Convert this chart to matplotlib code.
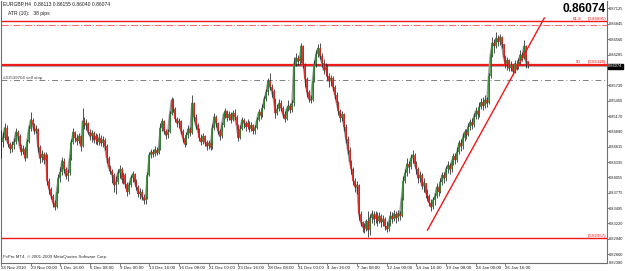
import numpy as np
import matplotlib
matplotlib.use("Agg")
import matplotlib.pyplot as plt

plt.rcParams["font.family"] = ["Liberation Sans", "DejaVu Sans"]

symbol_line = "EURGBP,H4  0.86113 0.86155 0.86040 0.86074"
atr_line = "ATR (10):   38 pips"
copyright_line = "FxPro MT4, \u00a9 2001-2009 MetaQuotes Software Corp."
last_price = 0.86074

# H4 bars, price = 0.8 + value / 10000
close_pips = [
    470, 478, 496, 474, 466, 458, 464, 470, 488, 480,
    462, 452, 458, 440, 470, 494, 510, 500, 490, 494,
    460, 440, 448, 438, 446, 400, 384, 372, 360, 352,
    380, 404, 416, 436, 420, 408, 414, 440, 470, 488,
    478, 472, 480, 462, 508, 500, 504, 488, 480, 486,
    474, 480, 470, 478, 468, 474, 462, 440, 424, 418,
    410, 392, 398, 414, 420, 402, 410, 394, 380, 392,
    404, 412, 398, 388, 376, 380, 370, 364, 368, 410,
    446, 452, 448, 456, 450, 458, 496, 508, 490, 482,
    488, 520, 546, 530, 512, 504, 508, 490, 478, 466,
    482, 494, 486, 540, 516, 500, 492, 478, 470, 480,
    470, 462, 468, 460, 496, 516, 504, 490, 480, 500,
    520, 526, 514, 520, 510, 522, 516, 500, 478, 494,
    510, 504, 498, 504, 494, 500, 490, 496, 510, 524,
    518, 532, 548, 560, 580, 570, 562, 548, 522, 530,
    540, 532, 520, 512, 530, 536, 528, 540, 612, 622,
    616, 620, 644, 610, 584, 560, 548, 546, 580, 612,
    630, 640, 626, 614, 600, 606, 590, 580, 586, 570,
    556, 540, 526, 514, 520, 498, 476, 456, 434, 420,
    400, 388, 392, 340, 324, 316, 312, 326, 310, 332,
    340, 330, 338, 326, 336, 324, 330, 318, 312, 322,
    336, 330, 340, 332, 340, 336, 368, 400, 414, 430,
    424, 440, 446, 430, 420, 404, 410, 390, 396, 378,
    372, 360, 352, 364, 372, 388, 380, 398, 410, 404,
    420, 428, 420, 434, 444, 438, 452, 468, 462, 478,
    488, 482, 498, 506, 500, 516, 526, 520, 534, 542,
    536, 546, 540, 590, 630, 650, 644, 658, 652, 660,
    648, 624, 612, 618, 604, 610, 598, 612, 606, 616,
    628, 622, 644, 616, 607,
]
high_pips = [
    492, 488, 504, 500, 480, 470, 472, 478, 495, 492,
    484, 466, 464, 460, 476, 500, 524, 514, 504, 500,
    496, 464, 456, 452, 452, 448, 404, 388, 376, 364,
    386, 412, 424, 443, 440, 424, 420, 448, 476, 495,
    490, 484, 486, 482, 532, 516, 512, 506, 494, 492,
    490, 486, 484, 486, 482, 480, 478, 466, 444, 428,
    420, 414, 408, 420, 428, 424, 416, 414, 398, 398,
    410, 418, 414, 402, 392, 386, 384, 376, 374, 416,
    452, 458, 458, 462, 460, 464, 504, 514, 510, 494,
    494, 526, 552, 550, 534, 516, 514, 510, 494, 482,
    488, 500, 498, 555, 542, 520, 504, 496, 484, 486,
    482, 474, 474, 472, 502, 523, 518, 506, 494, 506,
    526, 532, 528, 526, 524, 528, 530, 518, 502, 500,
    516, 514, 508, 512, 508, 506, 502, 500, 516, 530,
    530, 538, 554, 566, 586, 595, 576, 566, 550, 538,
    548, 546, 536, 526, 536, 546, 540, 546, 624, 632,
    628, 626, 650, 646, 614, 588, 564, 556, 588, 618,
    636, 648, 650, 632, 620, 614, 610, 596, 592, 590,
    574, 560, 544, 530, 526, 522, 502, 480, 460, 438,
    424, 404, 400, 394, 344, 326, 322, 330, 344, 340,
    346, 344, 344, 342, 342, 340, 338, 334, 326, 330,
    344, 342, 346, 344, 346, 344, 374, 408, 420, 440,
    436, 448, 455, 450, 436, 424, 418, 414, 404, 396,
    384, 376, 366, 370, 378, 396, 392, 404, 416, 416,
    426, 436, 432, 440, 450, 450, 460, 474, 476, 486,
    494, 494, 504, 512, 514, 522, 534, 532, 542, 550,
    552, 555, 552, 596, 636, 660, 656, 669, 664, 666,
    662, 648, 628, 624, 620, 616, 612, 618, 618, 622,
    636, 634, 655, 646, 616,
]
low_pips = [
    440, 460, 474, 470, 460, 450, 452, 458, 466, 472,
    456, 446, 448, 436, 440, 468, 490, 494, 484, 486,
    452, 432, 434, 430, 436, 392, 376, 366, 352, 346,
    350, 378, 398, 410, 414, 402, 400, 410, 438, 466,
    470, 464, 468, 454, 460, 494, 492, 484, 474, 470,
    468, 466, 464, 464, 462, 460, 456, 432, 418, 412,
    396, 380, 376, 394, 404, 396, 394, 386, 372, 376,
    388, 398, 392, 382, 370, 366, 364, 358, 358, 366,
    408, 440, 442, 444, 446, 448, 456, 490, 484, 476,
    478, 486, 518, 524, 506, 498, 496, 484, 470, 460,
    464, 478, 480, 484, 508, 494, 486, 472, 464, 466,
    462, 456, 458, 456, 458, 492, 498, 484, 474, 478,
    498, 514, 508, 510, 504, 508, 510, 494, 472, 476,
    492, 496, 490, 494, 488, 490, 484, 484, 494, 508,
    512, 516, 530, 544, 556, 564, 552, 540, 514, 518,
    526, 526, 514, 506, 510, 526, 522, 524, 536, 608,
    610, 612, 614, 604, 570, 552, 542, 540, 544, 578,
    606, 624, 620, 606, 594, 590, 580, 570, 572, 562,
    548, 532, 518, 506, 508, 490, 468, 448, 426, 412,
    392, 380, 376, 328, 318, 306, 304, 308, 298, 302,
    322, 320, 322, 318, 322, 316, 318, 310, 306, 308,
    318, 322, 326, 322, 326, 328, 334, 364, 396, 408,
    414, 420, 432, 424, 412, 396, 398, 384, 380, 368,
    362, 354, 344, 348, 356, 368, 372, 378, 392, 396,
    400, 414, 412, 416, 428, 430, 434, 448, 454, 458,
    472, 476, 480, 492, 494, 498, 512, 512, 516, 530,
    528, 532, 534, 538, 586, 624, 632, 640, 644, 646,
    640, 616, 604, 600, 598, 598, 591, 596, 600, 602,
    612, 616, 620, 604, 604,
]

x_tick_bars = [0, 16, 32, 48, 64, 80, 96, 112, 128, 144, 160, 176, 192, 208, 224, 240, 256, 272]
x_tick_labels = ["24 Nov 2010", "29 Nov 00:00", "1 Dec 16:00", "6 Dec 08:00", "9 Dec 00:00",
                 "13 Dec 16:00", "16 Dec 08:00", "21 Dec 00:00", "23 Dec 16:00", "28 Dec 08:00",
                 "31 Dec 00:00", "4 Jan 16:00", "7 Jan 08:00", "12 Jan 00:00", "14 Jan 16:00",
                 "19 Jan 08:00", "24 Jan 00:00", "26 Jan 16:00"]
y_tick_labels = ["0.87125", "0.86845", "0.86560", "0.86285", "0.85730", "0.85450",
                 "0.85170", "0.84890", "0.84615", "0.84335", "0.84055", "0.83775",
                 "0.83495", "0.83220", "0.82940", "0.82660"]
y_bottom_label = "0.82380"

fib_618 = 0.86895
fib_50 = 0.86118
fib_100 = 0.82957
second_line = 0.86100
stop_loss = 0.86820
sell_stop = 0.85820
sell_stop_label = "#41539704 sell stop"

trend_bars = [230, 293]
trend_prices = [0.83100, 0.86950]

W, H = 625, 271
RED = "#f01818"
GREEN = "#2a8a2a"
FS = 3.2
FS_AX = 2.85

close = 0.8 + np.array(close_pips) / 10000
high = 0.8 + np.array(high_pips) / 10000
low = 0.8 + np.array(low_pips) / 10000
open_ = np.r_[close[0], close[:-1]]
bars = np.arange(len(close))

fig = plt.figure(figsize=(W / 100, H / 100), dpi=100)
ax = fig.add_axes([1 / W, (H - 263) / H, 606 / W, 262 / H])
ax.set_xlim(0.3, 326.8)
ax.set_ylim(0.82503, 0.87258)

# horizontal objects
ax.axhline(fib_618, color=RED, lw=1.0)
ax.axhline(stop_loss, color="#f07070", lw=0.8, ls="-.")
ax.axhline(fib_50, color=RED, lw=0.9)
ax.axhline(second_line, color=RED, lw=0.9)
ax.axhline(last_price, color="#a8a8a8", lw=0.8)
ax.axhline(sell_stop, color="#808080", lw=0.7, ls=(0, (6, 3, 1, 3)))
ax.axhline(fib_100, color=RED, lw=1.0)

# price: close line + bars
ax.plot(bars, close, color="#9a9a9a", lw=1.3, zorder=2)
ax.vlines(bars, low, high, color="#202020", lw=0.55, zorder=3)
up = close >= open_
ax.vlines(bars[up], open_[up], close[up], color=GREEN, lw=1.1, zorder=4)
ax.vlines(bars[~up], close[~up], open_[~up], color=RED, lw=1.1, zorder=4)

ax.plot(trend_bars, trend_prices, color=RED, lw=1.0, zorder=5)

# level labels
ytr = ax.get_yaxis_transform()
ax.text(0.944, fib_618, "61.8", color=RED, fontsize=FS, va="bottom", transform=ytr)
ax.text(0.999, fib_618, "(0.86895)", color=RED, fontsize=FS, va="bottom", ha="right", transform=ytr)
ax.text(0.948, fib_50, "50", color=RED, fontsize=FS, va="bottom", transform=ytr)
ax.text(0.999, fib_50, "(0.86118)", color=RED, fontsize=FS, va="bottom", ha="right", transform=ytr)
ax.text(0.999, fib_100, "(0.82957)", color=RED, fontsize=FS, va="bottom", ha="right", transform=ytr)
ax.text(0.003, sell_stop, sell_stop_label, color="#404040", fontsize=FS, va="bottom", transform=ytr)

# header texts
fig.text(3 / W, 1 - 4 / H, symbol_line, fontsize=FS + 0.4, va="center", color="#202020")
fig.text(8 / W, 1 - 14 / H, atr_line, fontsize=FS + 0.4, va="center", color="#202020")
fig.text(606 / W, 1 - 8.5 / H, "0.86074", fontsize=8.6, fontweight="bold", ha="right", va="center")
fig.text(3 / W, 1 - 257 / H, copyright_line, fontsize=FS, va="center", color="#303030")

# axes styling
ax.spines["top"].set_visible(False)
for side in ["left", "right", "bottom"]:
    ax.spines[side].set_color("#707070")
    ax.spines[side].set_linewidth(0.8)

ax.set_xticks(x_tick_bars)
ax.set_xticklabels(x_tick_labels, fontsize=FS, ha="left", color="#202020")
ax.tick_params(axis="x", length=2, width=0.6, pad=0.5, color="#707070")

ax.yaxis.tick_right()
ax.set_yticks([float(v) for v in y_tick_labels])
ax.set_yticklabels(y_tick_labels, fontsize=FS_AX, color="#202020")
ax.tick_params(axis="y", length=1.3, width=0.6, pad=0.4, color="#707070")
ax.text(1.003, 0.0, y_bottom_label, fontsize=FS_AX, color="#202020", va="center",
        transform=ax.transAxes)

# current price box on the scale
ax.text(1.002, last_price, "0.86074", fontsize=FS_AX, color="white", va="center", transform=ytr,
        bbox=dict(boxstyle="square,pad=0.12", fc="black", ec="black"))

fig.savefig("out.png", dpi=100)
